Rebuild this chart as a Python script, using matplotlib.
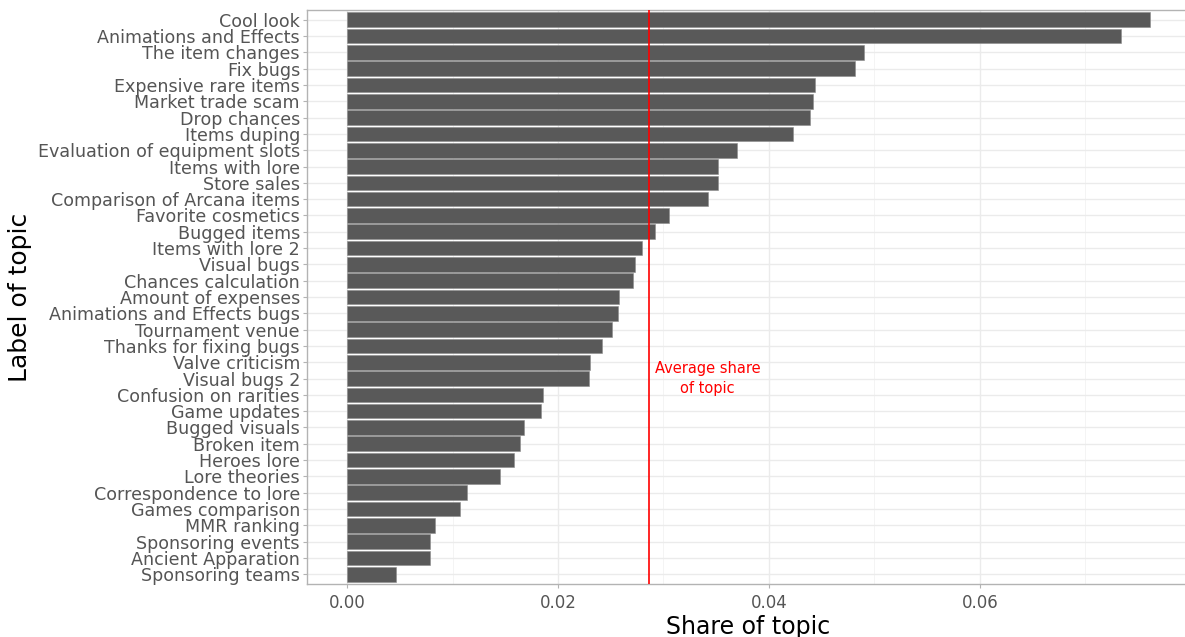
import numpy as np
import matplotlib
matplotlib.use("Agg")
import matplotlib.pyplot as plt

topics = ["Cool look", "Animations and Effects", "The item changes", "Fix bugs",
          "Expensive rare items", "Market trade scam", "Drop chances", "Items duping",
          "Evaluation of equipment slots", "Items with lore", "Store sales",
          "Comparison of Arcana items", "Favorite cosmetics", "Bugged items",
          "Items with lore 2", "Visual bugs", "Chances calculation", "Amount of expenses",
          "Animations and Effects bugs", "Tournament venue", "Thanks for fixing bugs",
          "Valve criticism", "Visual bugs 2", "Confusion on rarities", "Game updates",
          "Bugged visuals", "Broken item", "Heroes lore", "Lore theories",
          "Correspondence to lore", "Games comparison", "MMR ranking",
          "Sponsoring events", "Ancient Apparation", "Sponsoring teams"]
share = [0.0761, 0.0734, 0.0490, 0.0482, 0.0444, 0.0442, 0.0439, 0.0423, 0.0370,
         0.0352, 0.0352, 0.0342, 0.0305, 0.0292, 0.0280, 0.0273, 0.0271, 0.0258,
         0.0257, 0.0251, 0.0242, 0.0230, 0.0229, 0.0186, 0.0184, 0.0168, 0.0164,
         0.0158, 0.0145, 0.0114, 0.0107, 0.0083, 0.0079, 0.0079, 0.0046]
avg_share = np.mean(share)

plt.rcParams['font.family'] = ['DejaVu Sans']

fig = plt.figure(figsize=(11.85, 6.37), dpi=100)
ax = fig.add_axes([0.259, 0.0832, 0.745, 0.9011])

n = len(topics)
ypos = np.arange(n, 0, -1)
ax.barh(ypos, share, height=0.9, color='#595959', edgecolor='#8C8C8C',
        linewidth=0.4, zorder=3)

top = max(share)
ax.set_xlim(-0.05 * top, 1.05 * top)
ax.set_ylim(0.4, n + 0.6)

ax.set_yticks(ypos)
ax.set_yticklabels(topics)
ax.set_xticks([0, 0.02, 0.04, 0.06])
ax.set_xticklabels(['0.00', '0.02', '0.04', '0.06'])
ax.set_xticks([0.01, 0.03, 0.05, 0.07], minor=True)

ax.grid(which='major', color='#EBEBEB', linewidth=1.0, zorder=0)
ax.grid(which='minor', axis='x', color='#F2F2F2', linewidth=0.6, zorder=0)
ax.set_axisbelow(True)

for s in ax.spines.values():
    s.set_color('#B3B3B3')
    s.set_linewidth(1.0)

ax.tick_params(axis='both', which='major', color='#B3B3B3', length=3,
               labelcolor='#555555')
ax.tick_params(axis='y', labelsize=12.6, pad=2)
ax.tick_params(axis='x', labelsize=12, pad=4)
ax.tick_params(which='minor', length=0)

ax.axvline(avg_share, color='#FF0000', linewidth=1.2, zorder=4)
ax.text(avg_share + 0.0055, 13, "Average share\nof topic", color='#FF0000',
        ha='center', va='center', fontsize=10.5, linespacing=1.35, zorder=5)

ax.set_xlabel('Share of topic', fontsize=17, labelpad=2)
ax.set_ylabel('Label of topic', fontsize=18, labelpad=4)

fig.savefig('out.png', dpi=100)
